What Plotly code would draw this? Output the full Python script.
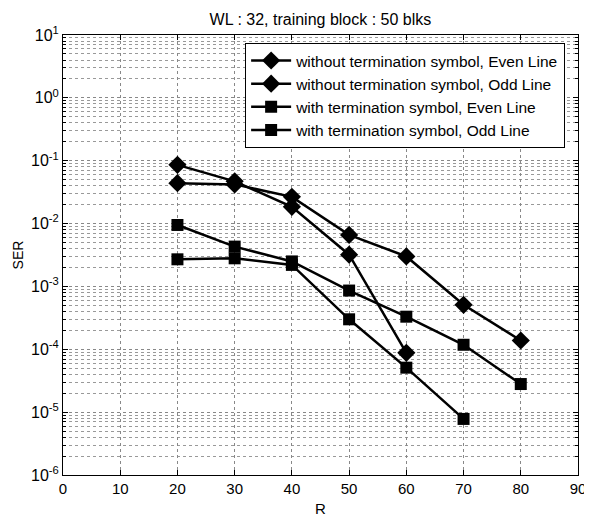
import plotly.graph_objects as go

R = [20, 30, 40, 50, 60, 70, 80]

wo_even = [0.044, 0.042, 0.0266, 0.0066, 0.0030, 0.00051, 0.000138]
wo_odd = [0.086, 0.047, 0.0185, 0.0032, 0.000088]
w_even = [0.0095, 0.0043, 0.0025, 0.00086, 0.00033, 0.000118, 0.000028]
w_odd = [0.0027, 0.0028, 0.0022, 0.00030, 0.000051, 0.0000078]

names = [
    "without termination symbol, Even Line",
    "without termination symbol, Odd Line",
    "with termination symbol, Even Line",
    "with termination symbol, Odd Line",
]

x_ticks = [0, 10, 20, 30, 40, 50, 60, 70, 80, 90]
y_exps = [-6, -5, -4, -3, -2, -1, 0, 1]

fig = go.Figure()
series = [
    (wo_even, "diamond", 14),
    (wo_odd, "diamond", 14),
    (w_even, "square", 12),
    (w_odd, "square", 12),
]
for (vals, sym, sz), nm in zip(series, names):
    fig.add_trace(go.Scatter(
        x=R[:len(vals)], y=vals, name=nm, mode="lines+markers",
        line=dict(color="black", width=2.5),
        marker=dict(symbol=sym, size=sz, color="black"),
    ))

fig.update_layout(
    width=584, height=514,
    margin=dict(l=55, r=14, t=27, b=47, autoexpand=False),
    paper_bgcolor="white", plot_bgcolor="white",
    font=dict(family="Liberation Sans, Arial", size=15, color="black"),
    title=dict(text="WL : 32, training block : 50 blks", x=0.535, xanchor="center",
               y=0.988, yanchor="top", font=dict(size=16)),
    legend=dict(x=0.975, y=0.982, xanchor="right", yanchor="top",
                bgcolor="white", bordercolor="black", borderwidth=1,
                font=dict(size=15.5), tracegroupgap=0, itemwidth=40),
    showlegend=True,
)
fig.update_xaxes(
    range=[0, 90], tickvals=x_ticks, ticktext=[str(v) for v in x_ticks],
    showline=True, linecolor="black", linewidth=1, mirror="ticks",
    ticks="inside", ticklen=5, tickcolor="black", automargin=False,
    tickfont=dict(size=15),
    showgrid=True, gridcolor="#888", griddash="dot", gridwidth=1,
    zeroline=False,
    title=dict(text="R", standoff=7, font=dict(size=15)),
)
fig.update_yaxes(
    type="log", range=[-6, 1],
    tickvals=[10 ** e for e in y_exps],
    ticktext=["10<sup>%d</sup>" % e for e in y_exps],
    showline=True, linecolor="black", linewidth=1, mirror="ticks",
    ticks="inside", ticklen=5, tickcolor="black", automargin=False,
    tickfont=dict(size=16),
    showgrid=True, gridcolor="#888", griddash="dot", gridwidth=1,
    minor=dict(showgrid=True, gridcolor="#999", griddash="dot", gridwidth=1,
               ticks="inside", ticklen=3, tickcolor="black", dtick="D1"),
    zeroline=False,
    title=dict(text="SER", standoff=4, font=dict(size=14)),
)

fig.write_html("out.html")
